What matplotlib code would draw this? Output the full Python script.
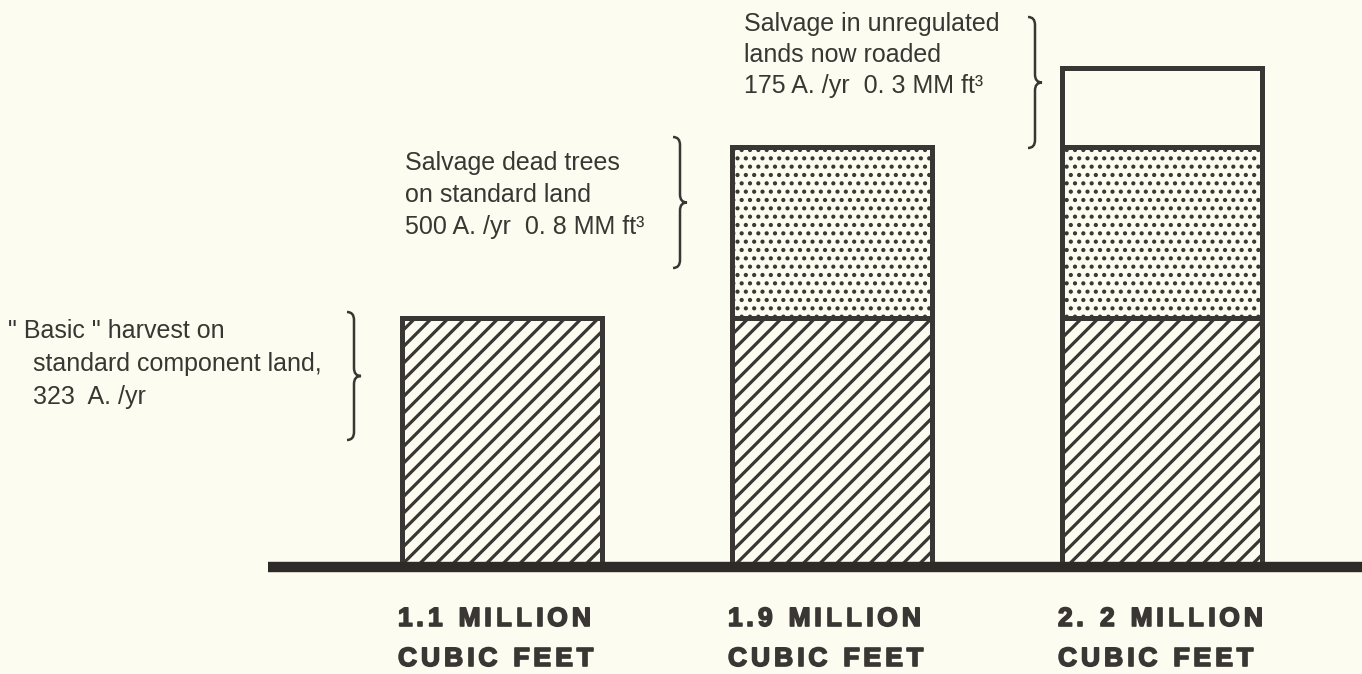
import matplotlib
matplotlib.use("Agg")
import matplotlib.pyplot as plt
from matplotlib.path import Path
from matplotlib.patches import PathPatch
from matplotlib.font_manager import FontProperties
import matplotlib.patheffects as pe
import numpy as np

# volumes per bar (million cubic feet), stacked
labels_top = ["1.1 MILLION", "1.9 MILLION", "2. 2 MILLION"]
labels_bot = ["CUBIC FEET", "CUBIC FEET", "CUBIC FEET"]
basic_harvest = [1.1, 1.1, 1.1]
salvage_standard = [0.0, 0.76, 0.76]
salvage_unregulated = [0.0, 0.0, 0.35]

note_basic = ['" Basic " harvest on', "standard component land,", "323  A. /yr"]
note_salvage = ["Salvage dead trees", "on standard land", "500 A. /yr  0. 8 MM ft\u00b3"]
note_unreg = ["Salvage in unregulated", "lands now roaded", "175 A. /yr  0. 3 MM ft\u00b3"]

W, H = 1362, 674
bg = "#fcfcf0"
ink = "#3a3633"
body_font = ["Liberation Sans", "DejaVu Sans"]

fig = plt.figure(figsize=(W / 100, H / 100), dpi=100, facecolor=bg)
ax = fig.add_axes([0, 0, 1, 1])
ax.set_facecolor(bg)
ax.set_axis_off()

# px scale: bar centres 330 px apart, 226 px per million ft3, baseline 567 px from top
ax.set_xlim(-502 / 330, (W - 502) / 330)
ax.set_ylim(-(H - 567) / 226, 567 / 226)

x = np.arange(3)
wid = 0.606


def bar_layer(vals, bottom, hatch, hlw):
    with plt.rc_context({"hatch.linewidth": hlw, "hatch.color": ink}):
        bs = ax.bar(x, vals, wid, bottom=bottom, color=bg, edgecolor=ink,
                    linewidth=3.6, hatch=hatch, zorder=2)
    for b, v in zip(bs, vals):
        if v == 0:
            b.set_visible(False)
    return bs


bar_layer(basic_harvest, 0, "//", 2.3)
bar_layer(salvage_standard, basic_harvest, "..", 1.8)
bar_layer(salvage_unregulated, np.add(basic_harvest, salvage_standard), "", 1.0)

# ground line
ax.hlines(0, -0.709, (W - 502) / 330, color="#2e2a27", linewidth=7.5, zorder=3)


def px(xp, yp):
    return xp / W, 1 - yp / H


def brace(x0, y0, y1, w=14):
    # right-facing curly brace in pixel coordinates
    xm = x0 + w * 0.5
    ym = (y0 + y1) / 2
    r = 8
    verts = [(x0, y0), (xm, y0), (xm, y0 + r),
             (xm, ym - r),
             (xm, ym), (x0 + w, ym),
             (xm, ym), (xm, ym + r),
             (xm, y1 - r),
             (xm, y1), (x0, y1)]
    codes = [Path.MOVETO, Path.CURVE3, Path.CURVE3,
             Path.LINETO,
             Path.CURVE3, Path.CURVE3,
             Path.CURVE3, Path.CURVE3,
             Path.LINETO,
             Path.CURVE3, Path.CURVE3]
    verts = [px(a, b) for a, b in verts]
    fig.add_artist(PathPatch(Path(verts, codes), fill=False, edgecolor=ink,
                             linewidth=1.8, transform=fig.transFigure))


def note(lines, xl, ybase, step=33, indent0=0):
    for i, s in enumerate(lines):
        fig.text(*px(xl - (indent0 if i == 0 else 0), ybase + i * step), s,
                 family=body_font, fontsize=18, color=ink, va="baseline")


note(note_basic, 33, 338, step=33, indent0=25)
note(note_salvage, 405, 170, step=32)
note(note_unreg, 744, 31, step=31)

brace(347, 312, 440)
brace(673, 137, 268)
brace(1028, 17, 148)

# bottom labels with letter tracking
renderer = fig.canvas.get_renderer()
lab_prop = FontProperties(family=["Liberation Sans", "DejaVu Sans"], weight="bold", size=19)


def tracked(xp, yp, s, gap=4.0):
    cur = xp
    for ch in s:
        if ch == " ":
            cur += 12
            continue
        fig.text(*px(cur, yp), ch, fontproperties=lab_prop, color=ink, va="baseline",
                 path_effects=[pe.withStroke(linewidth=1.2, foreground=ink)])
        w, h, d = renderer.get_text_width_height_descent(ch, lab_prop, ismath=False)
        cur += w + gap


for i in range(3):
    left_px = 502 + i * 330 - 104
    tracked(left_px, 626, labels_top[i])
    tracked(left_px, 666, labels_bot[i])

fig.savefig("out.png", dpi=100, facecolor=bg)
